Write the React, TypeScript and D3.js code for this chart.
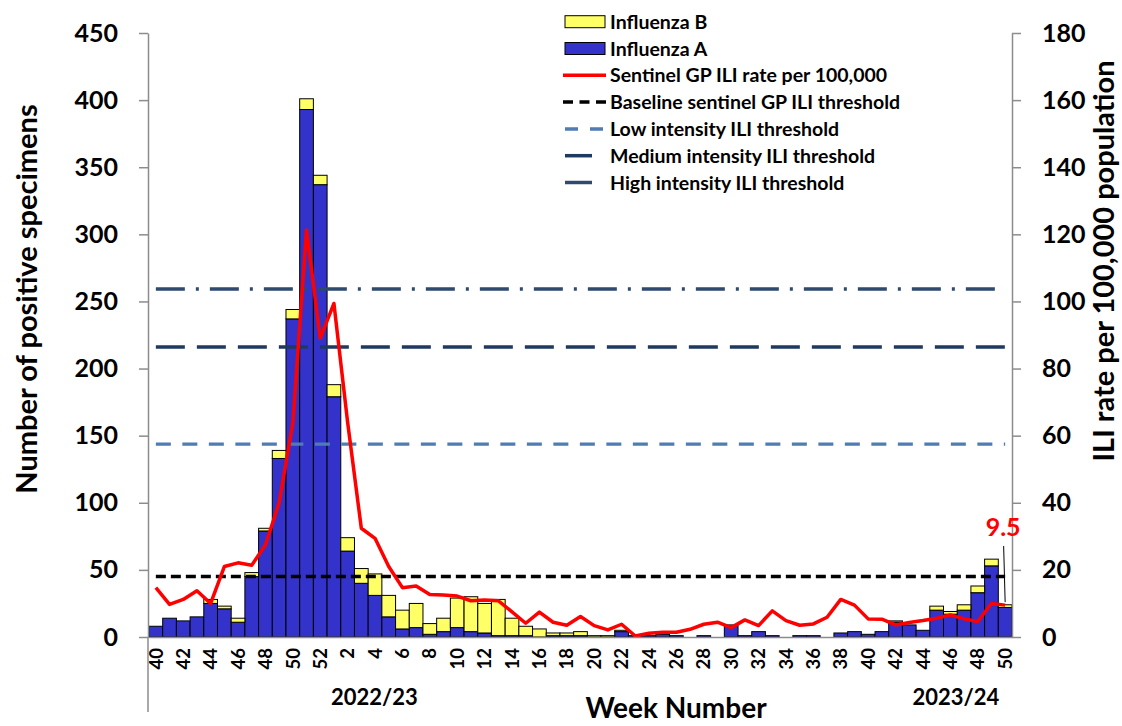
import React, { useEffect, useRef } from "react";
import * as d3 from "d3";

// surveillance weeks 40/2022 .. 50/2023
const weeks = [
	40, 41, 42, 43, 44, 45, 46, 47, 48, 49, 50, 51, 52,
	1, 2, 3, 4, 5, 6, 7, 8, 9, 10, 11, 12, 13, 14, 15, 16, 17, 18, 19, 20,
	21, 22, 23, 24, 25, 26, 27, 28, 29, 30, 31, 32, 33, 34, 35, 36, 37, 38, 39,
	40, 41, 42, 43, 44, 45, 46, 47, 48, 49, 50,
];

const influenzaA = [
	8, 14, 12, 15, 25, 21, 11, 45, 79, 133, 237, 393, 337,
	179, 64, 40, 31, 15, 6, 7, 2, 4, 7, 4, 3, 1, 1, 1, 0, 1, 1, 1, 0,
	0, 4, 1, 1, 2, 1, 0, 1, 0, 9, 1, 4, 1, 0, 1, 1, 0, 3, 4,
	2, 4, 11, 9, 5, 20, 17, 20, 33, 53, 22,
];

const influenzaB = [
	0, 0, 0, 0, 3, 2, 3, 3, 2, 6, 7, 8, 7,
	9, 10, 11, 16, 16, 14, 18, 8, 10, 22, 26, 22, 27, 13, 7, 6, 2, 2, 3, 1,
	1, 1, 0, 0, 0, 0, 0, 0, 0, 0, 0, 0, 0, 0, 0, 0, 0, 0, 0,
	0, 0, 1, 0, 0, 3, 2, 4, 5, 5, 2,
];

const iliRate = [
	14.7, 9.7, 11.2, 13.8, 10.0, 21.0, 22.1, 21.4, 27.4, 40.0, 63.7, 121.3, 89.0,
	99.4, 64.0, 32.4, 29.4, 21.0, 14.7, 15.2, 12.7, 12.5, 12.2, 10.8, 11.0, 10.8, 7.5, 4.1, 7.4, 4.4, 3.5, 6.1, 3.4,
	2.1, 3.8, 0.3, 1.1, 1.4, 1.4, 2.3, 3.8, 4.4, 2.8, 5.1, 3.4, 7.8, 4.9, 3.5, 3.9, 5.9, 11.2, 9.5,
	5.4, 5.3, 3.6, 4.3, 4.9, 5.6, 6.6, 5.4, 4.6, 10.0, 9.5,
];

const baselineThreshold = 18;
const lowThreshold = 57.5;
const mediumThreshold = 86.4;
const highThreshold = 103.7;

const seasons = ["2022/23", "2023/24"];
const leftTicks = [0, 50, 100, 150, 200, 250, 300, 350, 400, 450];
const rightTicks = [0, 20, 40, 60, 80, 100, 120, 140, 160, 180];

const FONT = "Lato, 'Open Sans', sans-serif";
const BLUE = "#3333cc";
const YELLOW = "#ffff66";
const AXIS = "#8c8c8c";

const App = () => {
	const ref = useRef(null);

	useEffect(() => {
		const width = 1122;
		const height = 726;
		const margin = { top: 33, right: 110, bottom: 89, left: 149 };

		d3.select(ref.current).selectAll("*").remove();
		const svg = d3
			.select(ref.current)
			.append("svg")
			.attr("width", width)
			.attr("height", height)
			.style("position", "absolute")
			.style("left", 0)
			.style("top", 0)
			.style("font-family", FONT)
			.style("font-weight", "bold");

		const idx = weeks.map((_, i) => i);
		const x = d3
			.scaleBand()
			.domain(idx)
			.range([margin.left, width - margin.right])
			.padding(0);
		const bw = x.bandwidth();
		const cx = (i) => x(i) + bw / 2;

		const yL = d3.scaleLinear().domain([0, 450]).range([height - margin.bottom, margin.top]);
		const yR = d3.scaleLinear().domain([0, 180]).range([height - margin.bottom, margin.top]);

		// stacked bars
		const table = idx.map((i) => ({ A: influenzaA[i], B: influenzaB[i], i }));
		const stacked = d3.stack().keys(["A", "B"])(table);
		const colors = { A: BLUE, B: YELLOW };

		svg
			.append("g")
			.selectAll("g")
			.data(stacked)
			.join("g")
			.attr("fill", (d) => colors[d.key])
			.selectAll("rect")
			.data((d) => d.filter((p) => p[1] - p[0] > 0))
			.join("rect")
			.attr("x", (d) => x(d.data.i))
			.attr("width", bw)
			.attr("y", (d) => yL(d[1]))
			.attr("height", (d) => yL(d[0]) - yL(d[1]))
			.attr("stroke", "#000")
			.attr("stroke-width", 1);

		// threshold lines
		const thresholds = [
			{ v: baselineThreshold, color: "#000", dash: "10,5", w: 3.5 },
			{ v: lowThreshold, color: "#4f7cb3", dash: "15,11.5", w: 3.3 },
			{ v: mediumThreshold, color: "#1f3a60", dash: "29,12", w: 3.5 },
			{ v: highThreshold, color: "#2e4a6e", dash: "29,11,3,11", w: 3.5 },
		];
		svg
			.append("g")
			.selectAll("line")
			.data(thresholds)
			.join("line")
			.attr("x1", cx(0))
			.attr("x2", cx(idx.length - 1))
			.attr("y1", (d) => yR(d.v))
			.attr("y2", (d) => yR(d.v))
			.attr("stroke", (d) => d.color)
			.attr("stroke-width", (d) => d.w)
			.attr("stroke-dasharray", (d) => d.dash);

		// ILI rate
		const line = d3
			.line()
			.x((d, i) => cx(i))
			.y((d) => yR(d));
		svg
			.append("path")
			.datum(iliRate)
			.attr("fill", "none")
			.attr("stroke", "#ff0000")
			.attr("stroke-width", 3.5)
			.attr("stroke-linejoin", "round")
			.attr("d", line);

		// axes
		const styleAxis = (g) => {
			g.selectAll("path, line").attr("stroke", AXIS).attr("stroke-width", 1.5);
			g.selectAll("text").attr("fill", "#000").style("font-family", FONT).style("font-weight", "bold");
		};

		svg
			.append("g")
			.attr("transform", `translate(${margin.left - 1},0)`)
			.call(d3.axisLeft(yL).tickValues(leftTicks).tickSize(9).tickSizeOuter(0).tickPadding(21))
			.call(styleAxis)
			.selectAll("text")
			.attr("font-size", 25);

		svg
			.append("g")
			.attr("transform", `translate(${width - margin.right},0)`)
			.call(d3.axisRight(yR).tickValues(rightTicks).tickSize(9).tickSizeOuter(0).tickPadding(21))
			.call(styleAxis)
			.selectAll("text")
			.attr("font-size", 25);

		const xAxis = svg
			.append("g")
			.attr("transform", `translate(0,${height - margin.bottom})`)
			.call(
				d3
					.axisBottom(x)
					.tickValues(idx.filter((i) => i % 2 === 0))
					.tickFormat((i) => weeks[i])
					.tickSize(0)
					.tickSizeOuter(0)
			)
			.call(styleAxis);
		xAxis
			.selectAll("text")
			.attr("font-size", 18.5)
			.attr("transform", "rotate(-90)")
			.attr("x", -11)
			.attr("y", 0)
			.attr("dy", "0.36em")
			.attr("text-anchor", "end");

		// season divider
		svg
			.append("line")
			.attr("x1", margin.left - 1)
			.attr("x2", margin.left - 1)
			.attr("y1", height - margin.bottom)
			.attr("y2", 712)
			.attr("stroke", AXIS)
			.attr("stroke-width", 1.5);

		svg
			.append("g")
			.selectAll("text")
			.data(seasons)
			.join("text")
			.attr("x", (d, i) => (i === 0 ? x(16) + bw * 0.45 : x(58) + bw * 0.9))
			.attr("y", 705)
			.attr("text-anchor", "middle")
			.attr("font-size", 22)
			.text((d) => d);

		// titles
		svg
			.append("text")
			.attr("x", 676)
			.attr("y", 718)
			.attr("text-anchor", "middle")
			.attr("font-size", 28)
			.text("Week Number");

		svg
			.append("text")
			.attr("transform", `translate(37,299) rotate(-90)`)
			.attr("text-anchor", "middle")
			.attr("font-size", 29)
			.text("Number of positive specimens");

		svg
			.append("text")
			.attr("transform", `translate(1114,261) rotate(-90)`)
			.attr("text-anchor", "middle")
			.attr("font-size", 29)
			.text("ILI rate per 100,000 population");

		// latest value
		const last = idx.length - 1;
		svg
			.append("line")
			.attr("x1", cx(last) - 1.5)
			.attr("x2", cx(last))
			.attr("y1", 546)
			.attr("y2", yR(iliRate[last]) - 3)
			.attr("stroke", "#000")
			.attr("stroke-width", 1);
		svg
			.append("text")
			.attr("x", cx(last) - 2)
			.attr("y", 536)
			.attr("text-anchor", "middle")
			.attr("font-size", 25)
			.attr("fill", "#ff0000")
			.text(iliRate[last]);

		// legend
		const legend = [
			{ label: "Influenza B", type: "rect", color: YELLOW },
			{ label: "Influenza A", type: "rect", color: BLUE },
			{ label: "Sentinel GP ILI rate per 100,000", type: "line", color: "#ff0000", dash: null, len: 43 },
			{ label: "Baseline sentinel GP ILI threshold", type: "line", color: "#000", dash: "10,6.5", len: 43 },
			{ label: "Low intensity ILI threshold", type: "line", color: "#4f7cb3", dash: "13,12", len: 40 },
			{ label: "Medium intensity ILI threshold", type: "line", color: "#1f3a60", dash: null, len: 27 },
			{ label: "High intensity ILI threshold", type: "line", color: "#2e4a6e", dash: null, len: 27 },
		];
		const lg = svg
			.append("g")
			.selectAll("g")
			.data(legend)
			.join("g")
			.attr("transform", (d, i) => `translate(563,${21.7 + i * 26.8})`);
		lg.filter((d) => d.type === "rect")
			.append("rect")
			.attr("x", 2)
			.attr("y", -6)
			.attr("width", 40)
			.attr("height", 12)
			.attr("fill", (d) => d.color)
			.attr("stroke", "#000")
			.attr("stroke-width", 1);
		lg.filter((d) => d.type === "line")
			.append("line")
			.attr("x1", (d) => (d.len < 43 ? 2 : 0))
			.attr("x2", (d) => (d.len < 43 ? 2 + d.len : 43))
			.attr("y1", 0)
			.attr("y2", 0)
			.attr("stroke", (d) => d.color)
			.attr("stroke-width", 3.5)
			.attr("stroke-dasharray", (d) => d.dash);
		lg.append("text")
			.attr("x", 47)
			.attr("y", 0)
			.attr("dy", "0.36em")
			.attr("font-size", 19.5)
			.text((d) => d.label);
	}, []);

	return <div ref={ref}></div>;
};

export default App;
